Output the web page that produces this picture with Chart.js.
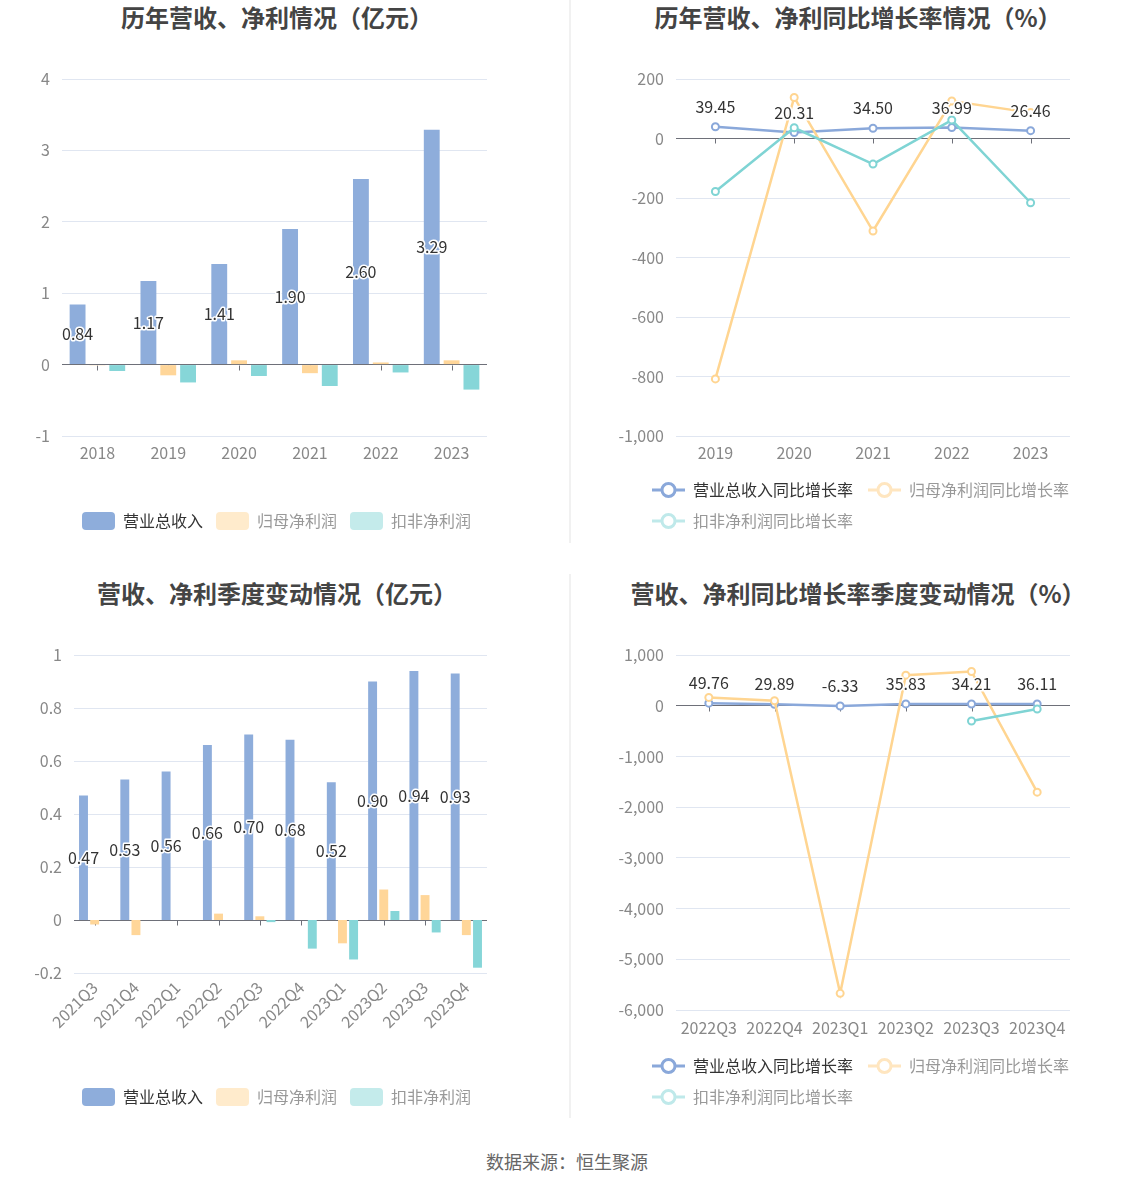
<!DOCTYPE html>
<html>
<head>
<meta charset="utf-8">
<script src="https://cdn.jsdelivr.net/npm/chart.js@4.4.1/dist/chart.umd.min.js"></script>
<style>
  body { margin: 0; background: #fff; }
  #page { position: relative; width: 1134px; height: 1188px; overflow: hidden;
          font-family: "Noto Sans CJK SC", "Noto Sans", sans-serif; }
  .ttl { position: absolute; width: 560px; text-align: center; font-size: 24px; font-weight: bold;
         color: #444; line-height: 34px; white-space: nowrap; }
  canvas { position: absolute; }
  .sep { position: absolute; left: 569px; width: 2px; background: #f1f1f1; }
  #src { position: absolute; left: 0; width: 1134px; top: 1147px; text-align: center;
         font-size: 18px; color: #666; line-height: 28px; }
</style>
</head>
<body>
<div id="page">
  <div class="sep" style="top:0;height:543px"></div>
  <div class="sep" style="top:574px;height:544px"></div>

  <div class="ttl" style="left:-3px;top:0">历年营收、净利情况（亿元）</div>
  <div class="ttl" style="left:578px;top:0">历年营收、净利同比增长率情况（%）</div>
  <div class="ttl" style="left:-3px;top:576px">营收、净利季度变动情况（亿元）</div>
  <div class="ttl" style="left:578px;top:576px">营收、净利同比增长率季度变动情况（%）</div>

  <canvas id="cYear"   width="570" height="490" style="left:0;top:50px"></canvas>
  <canvas id="cYearG"  width="564" height="489" style="left:570px;top:50px"></canvas>
  <canvas id="cQtr"    width="570" height="496" style="left:0;top:620px"></canvas>
  <canvas id="cQtrG"   width="564" height="495" style="left:570px;top:620px"></canvas>

  <div id="src">数据来源：恒生聚源</div>
</div>

<script>
// ── Datos ─────────────────────────────────────────────────────────
const years        = ['2018', '2019', '2020', '2021', '2022', '2023'];
const revenue      = [0.84, 1.17, 1.41, 1.90, 2.60, 3.29];
const netProfit    = [-0.01, -0.15, 0.06, -0.12, 0.03, 0.06];
const deductProfit = [-0.09, -0.25, -0.16, -0.30, -0.11, -0.35];

const growthYears   = ['2019', '2020', '2021', '2022', '2023'];
const revenueYoy    = [39.45, 20.31, 34.50, 36.99, 26.46];
const netProfitYoy  = [-808, 138, -311, 126, 87];
const deductYoy     = [-178, 36, -86, 62, -216];

const quarters      = ['2021Q3', '2021Q4', '2022Q1', '2022Q2', '2022Q3', '2022Q4', '2023Q1', '2023Q2', '2023Q3', '2023Q4'];
const qRevenue      = [0.47, 0.53, 0.56, 0.66, 0.70, 0.68, 0.52, 0.90, 0.94, 0.93];
const qNetProfit    = [-0.017, -0.057, 0, 0.024, 0.014, 0, -0.088, 0.115, 0.094, -0.057];
const qDeduct       = [0, 0, 0, 0, -0.008, -0.108, -0.149, 0.034, -0.047, -0.18];

const yoyQuarters   = ['2022Q3', '2022Q4', '2023Q1', '2023Q2', '2023Q3', '2023Q4'];
const qRevenueYoy   = [49.76, 29.89, -6.33, 35.83, 34.21, 36.11];
const qNetProfitYoy = [164, 98, -5672, 603, 675, -1705];
const qDeductYoy    = [null, null, null, null, -302, -66];

const seriesNames = ['营业总收入', '归母净利润', '扣非净利润'];
const yoyNames    = ['营业总收入同比增长率', '归母净利润同比增长率', '扣非净利润同比增长率'];

// rangos de ejes: [min, max, paso]
const yearAxis  = [-1, 4, 1];
const yearGAxis = [-1000, 200, 200];
const qtrAxis   = [-0.2, 1, 0.2];
const qtrGAxis  = [-6000, 1000, 1000];

// ── Estilos ───────────────────────────────────────────────────────
const FONT = '"Noto Sans CJK SC", "Noto Sans", sans-serif';
const BAR_COLORS   = ['#8eaddb', '#ffd699', '#86d6d8'];
const LINE_COLORS  = ['#8aa8da', '#ffd591', '#7fd4d4'];
const LEGEND_FILL  = ['#8eaddb', '#ffebcc', '#c4ebeb'];
const LEGEND_TEXT  = ['#333', '#999', '#999'];
const GRID  = '#e0e6f1';
const AXIS  = '#6e7079';
const TICK  = '#888';

Chart.defaults.font.family = FONT;
Chart.defaults.font.size = 16;
Chart.defaults.color = TICK;
Chart.defaults.animation = false;

// ── Plugins ───────────────────────────────────────────────────────
const zeroTicks = {
  id: 'zeroTicks',
  beforeDatasetsDraw(chart) {
    const { ctx, scales: { x, y } } = chart;
    const y0 = Math.round(y.getPixelForValue(0)) + 0.5;
    ctx.save();
    ctx.strokeStyle = AXIS;
    ctx.lineWidth = 1;
    ctx.beginPath();
    x.ticks.forEach((t, i) => {
      const px = Math.round(x.getPixelForTick(i)) + 0.5;
      ctx.moveTo(px, y0);
      ctx.lineTo(px, y0 + 5);
    });
    ctx.stroke();
    ctx.restore();
  }
};

const valueLabels = {
  id: 'valueLabels',
  afterDatasetsDraw(chart, args, opts) {
    if (opts.dataset == null) return;
    const meta = chart.getDatasetMeta(opts.dataset);
    const data = chart.data.datasets[opts.dataset].data;
    const { ctx } = chart;
    ctx.save();
    ctx.font = '16px ' + FONT;
    ctx.textAlign = 'center';
    ctx.textBaseline = 'middle';
    ctx.lineJoin = 'round';
    meta.data.forEach((el, i) => {
      const v = data[i];
      if (v == null) return;
      const txt = v.toFixed(2);
      const py = opts.mode === 'mid' ? (el.y + el.base) / 2 : el.y - 20;
      ctx.lineWidth = 3;
      ctx.strokeStyle = '#fff';
      ctx.strokeText(txt, el.x, py);
      ctx.fillStyle = '#333';
      ctx.fillText(txt, el.x, py);
    });
    ctx.restore();
  }
};

Chart.register(zeroTicks, valueLabels);

// ── Icono de leyenda para lineas ──────────────────────────────────
function lineIcon(color) {
  const c = document.createElement('canvas');
  c.width = 33; c.height = 18;
  const g = c.getContext('2d');
  g.strokeStyle = color;
  g.lineWidth = 3;
  g.beginPath(); g.moveTo(0, 9); g.lineTo(33, 9); g.stroke();
  g.beginPath(); g.arc(16.5, 9, 6.5, 0, Math.PI * 2);
  g.fillStyle = '#fff'; g.fill(); g.stroke();
  return c;
}
const LINE_ICONS = [lineIcon('#8aa8da'), lineIcon('#ffe6c0'), lineIcon('#bfe9ea')];

// ── Helpers de ejes ───────────────────────────────────────────────
function yScale(range, width, fmt) {
  return {
    min: range[0], max: range[1],
    grid: { color: c => Math.abs(c.tick.value) < 1e-9 ? AXIS : GRID, drawTicks: false },
    border: { display: false },
    ticks: { stepSize: range[2], padding: 12, color: TICK, callback: fmt },
    afterFit: s => {
      s.width = width;
      s._computeLabelArea = () => undefined;   // no recortar etiquetas largas
    }
  };
}
function padScale(width) {
  return {
    position: 'right', display: true,
    grid: { display: false }, border: { display: false }, ticks: { display: false },
    afterFit: s => { s.width = width; }
  };
}
function xScale(height, pad, rot) {
  return {
    offset: true,
    grid: { display: false, drawTicks: false }, border: { display: false },
    ticks: { padding: pad, color: TICK, autoSkip: false, minRotation: rot, maxRotation: rot },
    afterFit: s => { s.height = height; }
  };
}
const fmtDec = v => String(Math.round(v * 10) / 10);
const fmtInt = v => Math.round(v).toLocaleString('en-US');

// ── Graficos de barras ────────────────────────────────────────────
function barChart(id, labels, series, axis, geo) {
  return new Chart(document.getElementById(id), {
    type: 'bar',
    data: {
      labels,
      datasets: series.map((d, i) => ({
        label: seriesNames[i], data: d, backgroundColor: BAR_COLORS[i],
        categoryPercentage: geo.cat, barPercentage: 0.8
      }))
    },
    options: {
      responsive: false,
      layout: { padding: { top: geo.top, left: 0, right: 17, bottom: 0 } },
      scales: {
        x: xScale(geo.xh, geo.xpad, geo.rot),
        y: yScale(axis, geo.yw, fmtDec),
        pad: padScale(66)
      },
      plugins: {
        tooltip: { enabled: false },
        valueLabels: { dataset: 0, mode: 'mid' },
        legend: {
          position: 'bottom', align: 'center', onClick: null,
          labels: {
            boxWidth: 33, boxHeight: 18, padding: 13, useBorderRadius: true, borderRadius: 4,
            font: { size: 16 },
            generateLabels: ch => ch.data.datasets.map((ds, i) => ({
              text: ds.label, fillStyle: LEGEND_FILL[i], strokeStyle: LEGEND_FILL[i],
              lineWidth: 0, fontColor: LEGEND_TEXT[i], hidden: false, datasetIndex: i, borderRadius: 4
            }))
          }
        }
      }
    }
  });
}

// ── Graficos de lineas ────────────────────────────────────────────
function lineChart(id, labels, series, axis, geo) {
  return new Chart(document.getElementById(id), {
    type: 'line',
    data: {
      labels,
      datasets: series.map((d, i) => ({
        label: yoyNames[i], data: d, borderColor: LINE_COLORS[i], borderWidth: 2.5,
        pointRadius: 3.5, pointBorderWidth: 2, pointBackgroundColor: '#fff',
        pointBorderColor: LINE_COLORS[i], tension: 0, spanGaps: false, order: 3 - i
      }))
    },
    options: {
      responsive: false,
      layout: { padding: { top: geo.top, left: 67, right: 0, bottom: 0 } },
      scales: {
        x: xScale(geo.xh, geo.xpad, 0),
        y: yScale(axis, 39, fmtInt),
        pad: padScale(64)
      },
      plugins: {
        tooltip: { enabled: false },
        valueLabels: { dataset: 0, mode: 'above' },
        legend: {
          position: 'bottom', align: 'start', onClick: null,
          labels: {
            usePointStyle: true, pointStyleWidth: 33, padding: 15, font: { size: 16 },
            generateLabels: ch => ch.data.datasets.map((ds, i) => ({
              text: ds.label, pointStyle: LINE_ICONS[i], fillStyle: LINE_COLORS[i],
              strokeStyle: LINE_COLORS[i], lineWidth: 0, fontColor: LEGEND_TEXT[i],
              hidden: false, datasetIndex: i
            }))
          }
        }
      }
    }
  });
}

barChart('cYear', years, [revenue, netProfit, deductProfit], yearAxis,
  { top: 29, xh: 63, xpad: 7, rot: 0, yw: 62, cat: 0.84 });
lineChart('cYearG', growthYears, [revenueYoy, netProfitYoy, deductYoy], yearGAxis,
  { top: 29, xh: 31, xpad: 7 });
barChart('cQtr', quarters, [qRevenue, qNetProfit, qDeduct], qtrAxis,
  { top: 35, xh: 102, xpad: 5, rot: 45, yw: 74, cat: 0.81 });
lineChart('cQtrG', yoyQuarters, [qRevenueYoy, qNetProfitYoy, qDeductYoy], qtrGAxis,
  { top: 35, xh: 33, xpad: 8 });
</script>
</body>
</html>
